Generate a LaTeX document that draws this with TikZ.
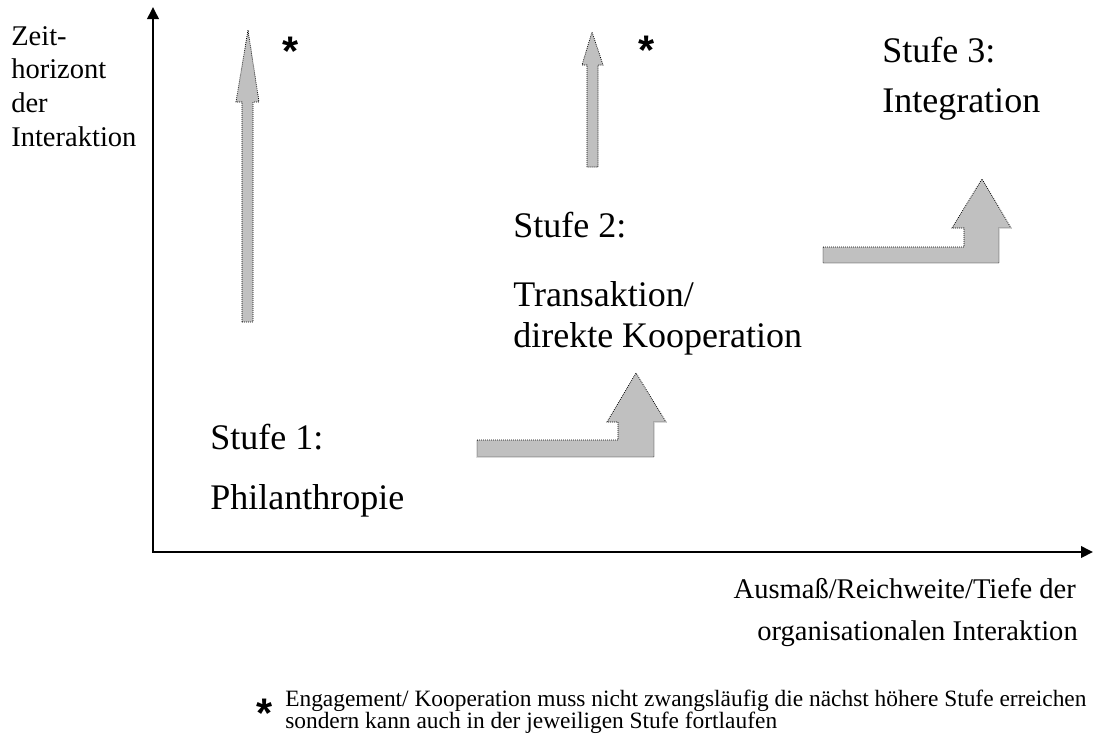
\documentclass[tikz,border=0pt]{standalone}
\usepackage{fontspec}
\setmainfont{Liberation Serif}
\newfontfamily\starfont{Liberation Sans}
\usetikzlibrary{arrows.meta}
\definecolor{arrowgray}{HTML}{C0C0C0}

\begin{document}
\begin{tikzpicture}[x=0.75pt,y=-0.75pt,
  axis/.style={line width=1.9pt, line join=miter,
    {Triangle[length=9pt,width=8.5pt]}-{Triangle[length=9pt,width=8.5pt]}},
  stepshape/.style={fill=arrowgray, draw=black, line width=0.6pt,
    dash pattern=on 0.6pt off 0.9pt},
  stage/.style={font=\fontsize{27}{32}\selectfont, inner sep=0, anchor=base west},
  axlabel/.style={font=\fontsize{21.4}{25}\selectfont, inner sep=0},
  note/.style={font=\fontsize{17.55}{20}\selectfont, inner sep=0, anchor=base west},
  star/.style={font=\starfont\bfseries\fontsize{31}{31}\selectfont, inner sep=0, anchor=base}]

\useasboundingbox (0,0) rectangle (1094,743);

% axes
\coordinate (ytip) at (153,7);
\coordinate (origin) at (153,552);
\coordinate (xtip) at (1093,552);
\draw[axis] (ytip) -- (origin) -- (xtip);

% axis labels
\node[axlabel, anchor=base west] (y1) at (11,45) {Zeit-};
\node[axlabel, anchor=base west] (y2) at (11,78) {horizont};
\node[axlabel, anchor=base west] (y3) at (11,112) {der};
\node[axlabel, anchor=base west] (y4) at (11,146) {Interaktion};
\node[axlabel, anchor=base east] (x1) at (1076,598) {Ausmaß/Reichweite/Tiefe der};
\node[axlabel, anchor=base east] (x2) at (1078,640) {organisationalen Interaktion};

% vertical arrows (staying within a stage)
\draw[stepshape] (242,322) -- (242,102) -- (236,102) -- (248,30) -- (259,102)
  -- (253,102) -- (253,322) -- cycle;
\draw[stepshape] (587,167) -- (587,65) -- (582,65) -- (592,32) -- (603,65)
  -- (598,65) -- (598,167) -- cycle;

% bent arrows (moving up one stage)
\draw[stepshape] (477,440) -- (618,440) -- (618,422) -- (607,422) -- (636,373)
  -- (666,422) -- (654,422) -- (654,457) -- (477,457) -- cycle;
\draw[stepshape] (823,247) -- (964,247) -- (964,228) -- (952,228) -- (982,179)
  -- (1011,228) -- (999,228) -- (999,263) -- (823,263) -- cycle;

% stars
\node[star] (st1) at (291,65) {*};
\node[star] (st2) at (647,64) {*};

% stage labels
\node[stage] (s1a) at (210,449) {Stufe 1:};
\node[stage] (s1b) at (210,509) {Philanthropie};
\node[stage] (s2a) at (513,237) {Stufe 2:};
\node[stage] (s2b) at (513,306) {Transaktion/};
\node[stage] (s2c) at (513,347) {direkte Kooperation};
\node[stage] (s3a) at (882,62) {Stufe 3:};
\node[stage] (s3b) at (882,112) {Integration};

% footnote
\node[star] (st3) at (265,727) {*};
\node[note] (n1) at (285,706) {Engagement/ Kooperation muss nicht zwangsläufig die nächst höhere Stufe erreichen};
\node[note] (n2) at (285,728) {sondern kann auch in der jeweiligen Stufe fortlaufen};
\end{tikzpicture}
\end{document}
